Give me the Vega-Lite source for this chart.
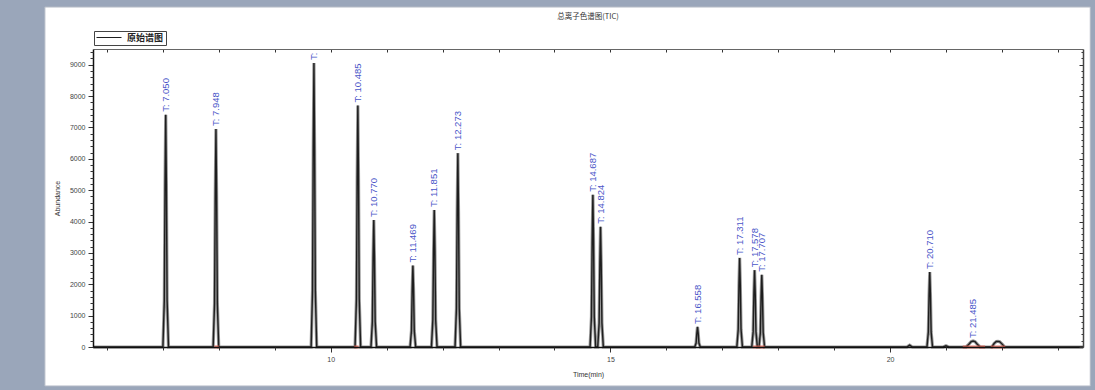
{
  "$schema": "https://vega.github.io/schema/vega-lite/v6.json",
  "width": 990,
  "height": 298,
  "autosize": {"type": "none"},
  "padding": {"left": 93, "top": 49, "right": 12, "bottom": 43},
  "background": "#9aa6ba",
  "config": {
    "view": {"stroke": null},
    "axis": {
      "grid": false,
      "labelFont": "Liberation Sans",
      "titleFont": "Liberation Sans",
      "labelFontSize": 7,
      "labelColor": "#444444",
      "titleFontSize": 7,
      "titleColor": "#333333",
      "titleFontWeight": "normal",
      "domainColor": "#111111",
      "tickColor": "#333333"
    }
  },
  "title": {
    "text": "总离子色谱图(TIC)",
    "font": "Noto Sans CJK SC",
    "fontSize": 7.5,
    "fontWeight": "normal",
    "color": "#333333",
    "offset": -14,
    "zindex": 2
  },
  "datasets": {
    "trace": [
      {"t": 5.75, "a": 0},
      {"t": 7.000, "a": 0}, {"t": 7.025, "a": 1480}, {"t": 7.038, "a": 5180}, {"t": 7.050, "a": 7400}, {"t": 7.062, "a": 5180}, {"t": 7.075, "a": 1480}, {"t": 7.100, "a": 0},
      {"t": 7.898, "a": 0}, {"t": 7.923, "a": 1390}, {"t": 7.936, "a": 4865}, {"t": 7.948, "a": 6950}, {"t": 7.960, "a": 4865}, {"t": 7.973, "a": 1390}, {"t": 7.998, "a": 0},
      {"t": 9.650, "a": 0}, {"t": 9.675, "a": 1810}, {"t": 9.688, "a": 6335}, {"t": 9.700, "a": 9050}, {"t": 9.712, "a": 6335}, {"t": 9.725, "a": 1810}, {"t": 9.750, "a": 0},
      {"t": 10.435, "a": 0}, {"t": 10.460, "a": 1540}, {"t": 10.473, "a": 5390}, {"t": 10.485, "a": 7700}, {"t": 10.497, "a": 5390}, {"t": 10.510, "a": 1540}, {"t": 10.535, "a": 0},
      {"t": 10.720, "a": 0}, {"t": 10.745, "a": 810}, {"t": 10.758, "a": 2835}, {"t": 10.770, "a": 4050}, {"t": 10.782, "a": 2835}, {"t": 10.795, "a": 810}, {"t": 10.820, "a": 0},
      {"t": 11.419, "a": 0}, {"t": 11.444, "a": 520}, {"t": 11.457, "a": 1820}, {"t": 11.469, "a": 2600}, {"t": 11.481, "a": 1820}, {"t": 11.494, "a": 520}, {"t": 11.519, "a": 0},
      {"t": 11.801, "a": 0}, {"t": 11.826, "a": 874}, {"t": 11.839, "a": 3059}, {"t": 11.851, "a": 4370}, {"t": 11.863, "a": 3059}, {"t": 11.876, "a": 874}, {"t": 11.901, "a": 0},
      {"t": 12.223, "a": 0}, {"t": 12.248, "a": 1236}, {"t": 12.261, "a": 4326}, {"t": 12.273, "a": 6180}, {"t": 12.285, "a": 4326}, {"t": 12.298, "a": 1236}, {"t": 12.323, "a": 0},
      {"t": 14.637, "a": 0}, {"t": 14.662, "a": 970}, {"t": 14.675, "a": 3395}, {"t": 14.687, "a": 4850}, {"t": 14.699, "a": 3395}, {"t": 14.712, "a": 970}, {"t": 14.737, "a": 0},
      {"t": 14.774, "a": 0}, {"t": 14.799, "a": 766}, {"t": 14.812, "a": 2681}, {"t": 14.824, "a": 3830}, {"t": 14.836, "a": 2681}, {"t": 14.849, "a": 766}, {"t": 14.874, "a": 0},
      {"t": 16.508, "a": 0}, {"t": 16.533, "a": 128}, {"t": 16.546, "a": 448}, {"t": 16.558, "a": 640}, {"t": 16.570, "a": 448}, {"t": 16.583, "a": 128}, {"t": 16.608, "a": 0},
      {"t": 17.261, "a": 0}, {"t": 17.286, "a": 568}, {"t": 17.299, "a": 1988}, {"t": 17.311, "a": 2840}, {"t": 17.323, "a": 1988}, {"t": 17.336, "a": 568}, {"t": 17.361, "a": 0},
      {"t": 17.528, "a": 0}, {"t": 17.553, "a": 490}, {"t": 17.566, "a": 1715}, {"t": 17.578, "a": 2450}, {"t": 17.590, "a": 1715}, {"t": 17.603, "a": 490}, {"t": 17.628, "a": 0},
      {"t": 17.657, "a": 0}, {"t": 17.682, "a": 460}, {"t": 17.695, "a": 1610}, {"t": 17.707, "a": 2300}, {"t": 17.719, "a": 1610}, {"t": 17.732, "a": 460}, {"t": 17.757, "a": 0},
      {"t": 20.30, "a": 0}, {"t": 20.35, "a": 60}, {"t": 20.40, "a": 0},
      {"t": 20.660, "a": 0}, {"t": 20.685, "a": 478}, {"t": 20.698, "a": 1673}, {"t": 20.710, "a": 2390}, {"t": 20.722, "a": 1673}, {"t": 20.735, "a": 478}, {"t": 20.760, "a": 0},
      {"t": 20.95, "a": 0}, {"t": 21.00, "a": 40}, {"t": 21.05, "a": 0},
      {"t": 21.36, "a": 0}, {"t": 21.41, "a": 90}, {"t": 21.45, "a": 170}, {"t": 21.485, "a": 190}, {"t": 21.52, "a": 170}, {"t": 21.56, "a": 90}, {"t": 21.61, "a": 0},
      {"t": 21.82, "a": 0}, {"t": 21.86, "a": 110}, {"t": 21.90, "a": 175}, {"t": 21.93, "a": 180}, {"t": 21.96, "a": 170}, {"t": 22.00, "a": 100}, {"t": 22.05, "a": 0},
      {"t": 23.45, "a": 0}
    ],
    "peaks": [
      {"t": 7.050, "a": 7400, "label": "T: 7.050"},
      {"t": 7.948, "a": 6950, "label": "T: 7.948"},
      {"t": 9.700, "a": 9050, "label": "T: 9.696"},
      {"t": 10.485, "a": 7700, "label": "T: 10.485"},
      {"t": 10.770, "a": 4050, "label": "T: 10.770"},
      {"t": 11.469, "a": 2600, "label": "T: 11.469"},
      {"t": 11.851, "a": 4370, "label": "T: 11.851"},
      {"t": 12.273, "a": 6180, "label": "T: 12.273"},
      {"t": 14.687, "a": 4850, "label": "T: 14.687"},
      {"t": 14.824, "a": 3830, "label": "T: 14.824"},
      {"t": 16.558, "a": 640, "label": "T: 16.558"},
      {"t": 17.311, "a": 2840, "label": "T: 17.311"},
      {"t": 17.578, "a": 2450, "label": "T: 17.578"},
      {"t": 17.707, "a": 2300, "label": "T: 17.707"},
      {"t": 20.710, "a": 2390, "label": "T: 20.710"},
      {"t": 21.485, "a": 190, "label": "T: 21.485"}
    ],
    "marks": [
      {"g": 1, "t": 7.92, "a": 0}, {"g": 1, "t": 8.00, "a": 0},
      {"g": 2, "t": 10.42, "a": 0}, {"g": 2, "t": 10.50, "a": 0},
      {"g": 3, "t": 17.55, "a": 0}, {"g": 3, "t": 17.76, "a": 0},
      {"g": 4, "t": 21.30, "a": 0}, {"g": 4, "t": 21.70, "a": 0},
      {"g": 5, "t": 21.80, "a": 0}, {"g": 5, "t": 22.06, "a": 0}
    ]
  },
  "resolve": {"axis": {"x": "independent", "y": "independent"}},
  "layer": [
    {
      "data": {"values": [{}]},
      "mark": {"type": "rect", "fill": "#ffffff", "stroke": "#b4bac6", "strokeWidth": 1},
      "encoding": {
        "x": {"datum": 4.89, "type": "quantitative", "scale": {"domain": [5.75, 23.45]}, "axis": null},
        "x2": {"datum": 23.58},
        "y": {"datum": -1243, "type": "quantitative", "scale": {"domain": [0, 9500]}, "axis": null},
        "y2": {"datum": 10838}
      }
    },
    {
      "data": {"name": "trace"},
      "mark": {"type": "line", "color": "#9a9a9a", "strokeWidth": 3.2},
      "encoding": {
        "x": {"field": "t", "type": "quantitative", "scale": {"domain": [5.75, 23.45]}, "axis": null},
        "y": {"field": "a", "type": "quantitative", "scale": {"domain": [0, 9500]},
          "axis": {"zindex": 2, "orient": "right", "values": [200,400,600,800,1200,1400,1600,1800,2200,2400,2600,2800,3200,3400,3600,3800,4200,4400,4600,4800,5200,5400,5600,5800,6200,6400,6600,6800,7200,7400,7600,7800,8200,8400,8600,8800,9200,9400], "labels": false, "tickSize": -2, "domain": false, "title": null}}
      }
    },
    {
      "data": {"name": "trace"},
      "mark": {"type": "line", "strokeWidth": 1.4},
      "encoding": {
        "x": {"field": "t", "type": "quantitative", "scale": {"domain": [5.75, 23.45]},
          "axis": {"zindex": 2, "orient": "bottom", "values": [10, 15, 20], "format": "d", "tickSize": 5, "labelPadding": 3, "title": "Time(min)", "titlePadding": 8, "domainWidth": 1.5}},
        "y": {"field": "a", "type": "quantitative", "scale": {"domain": [0, 9500]},
          "axis": {"zindex": 2, "orient": "left", "values": [0,1000,2000,3000,4000,5000,6000,7000,8000,9000], "format": "d", "tickSize": 5, "labelPadding": 3, "title": "Abundance", "titlePadding": 9, "domainWidth": 1.5}},
        "color": {"datum": "原始谱图", "scale": {"range": ["#1e1e1e"]},
          "legend": {"orient": "none", "legendX": 1, "legendY": -18, "title": null, "symbolType": "M-1,0H5.25", "symbolSize": 64, "symbolStrokeWidth": 1, "symbolStrokeColor": "#555555", "labelFont": "Noto Sans CJK SC", "labelFontSize": 9, "labelFontWeight": "bold", "labelColor": "#222222", "labelOffset": 22, "strokeColor": "#444444", "padding": 2, "zindex": 2}}
      }
    },
    {
      "data": {"name": "peaks"},
      "mark": {"type": "text", "angle": 270, "align": "left", "baseline": "middle", "dx": 3, "fontSize": 9.5, "font": "Liberation Sans", "color": "#4a56c8", "clip": true},
      "encoding": {
        "x": {"field": "t", "type": "quantitative", "scale": {"domain": [5.75, 23.45]},
          "axis": {"zindex": 2, "orient": "bottom", "values": [6,7,8,9,11,12,13,14,16,17,18,19,21,22,23], "labels": false, "tickSize": 3, "domain": false, "title": null}},
        "y": {"field": "a", "type": "quantitative", "scale": {"domain": [0, 9500]},
          "axis": {"zindex": 2, "orient": "left", "values": [200,400,600,800,1200,1400,1600,1800,2200,2400,2600,2800,3200,3400,3600,3800,4200,4400,4600,4800,5200,5400,5600,5800,6200,6400,6600,6800,7200,7400,7600,7800,8200,8400,8600,8800,9200,9400], "labels": false, "tickSize": 3, "domain": false, "title": null}},
        "text": {"field": "label"}
      }
    },
    {
      "data": {"name": "marks"},
      "mark": {"type": "line", "color": "#e06050", "strokeWidth": 3, "opacity": 0.8},
      "encoding": {
        "x": {"field": "t", "type": "quantitative", "scale": {"domain": [5.75, 23.45]},
          "axis": {"zindex": 2, "orient": "top", "values": [6,7,8,9,10,11,12,13,14,15,16,17,18,19,20,21,22,23], "labels": false, "tickSize": -3, "domainColor": "#666666", "domainWidth": 1, "title": null}},
        "y": {"field": "a", "type": "quantitative", "scale": {"domain": [0, 9500]},
          "axis": {"zindex": 2, "orient": "right", "values": [0,1000,2000,3000,4000,5000,6000,7000,8000,9000], "labels": false, "tickSize": -4, "domainColor": "#444444", "domainWidth": 1.5, "title": null}},
        "detail": {"field": "g"}
      }
    }
  ]
}
